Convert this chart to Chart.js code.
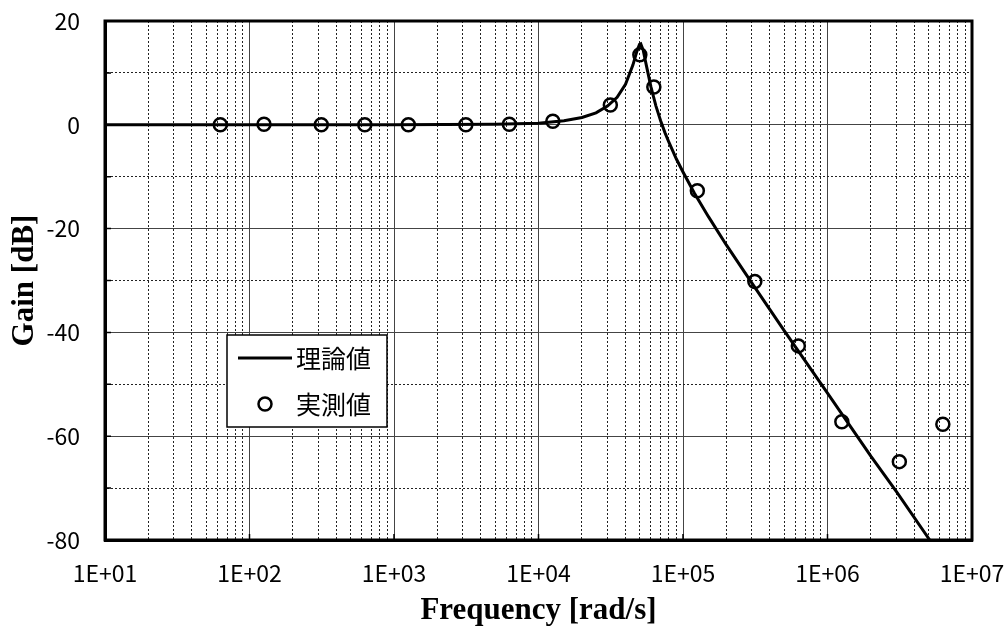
<!DOCTYPE html>
<html>
<head>
<meta charset="utf-8">
<script src="https://cdn.jsdelivr.net/npm/chart.js@4.4.1/dist/chart.umd.min.js"></script>
<style>
  html, body { margin: 0; padding: 0; background: #fff; }
</style>
</head>
<body>
<canvas id="gainChart" width="1008" height="632"></canvas>
<script>
// theoretical response (rad/s, dB)
const theoryFreq = [10, 1e3, 5e3, 1e4, 1.5e4, 2e4, 2.5e4, 3e4, 3.5e4, 4e4, 4.5e4, 4.8e4, 5e4, 5.1e4,
  5.3e4, 5.6e4, 6e4, 6.5e4, 7e4, 7.5e4, 8e4, 9e4, 1e5, 1.2e5, 1.5e5, 2e5, 3e5, 5e5, 1e6, 2e6, 3e6, 5.1e6];
const theoryGain = [0, 0, 0.1, 0.3, 0.8, 1.4, 2.3, 3.6, 5.3, 7.8, 11.5, 14.2, 15.5, 15.6,
  14.4, 11.2, 7.3, 3.6, 0.8, -1.5, -3.4, -6.6, -9.1, -13.2, -17.7, -23.2, -30.5, -39.6, -51.7, -63.9, -70.7, -80];

// measured points (rad/s, dB)
const measFreq = [62.8, 126, 314, 628, 1257, 3142, 6283, 12566, 31416, 50265, 62832,
  125664, 314159, 628319, 1256637, 3141593, 6283185];
const measGain = [0, 0.1, 0, 0, 0, 0, 0.1, 0.7, 3.8, 13.5, 7.3,
  -12.7, -30.2, -42.6, -57.2, -64.9, -57.7];

const decadeLabels = ["1E+01", "1E+02", "1E+03", "1E+04", "1E+05", "1E+06", "1E+07"];
const gainTicks = [-80, -70, -60, -50, -40, -30, -20, -10, 0, 10, 20];

const tickFont = { family: "'Noto Sans CJK JP', sans-serif", size: 23 };
const keyFont = { family: "'Noto Sans CJK JP', sans-serif", size: 25 };
const titleFont = { family: "'Liberation Serif', 'Times New Roman', serif", size: 31, weight: "bold" };

function isDecade(v) {
  const e = Math.log10(v);
  return Math.abs(e - Math.round(e)) < 1e-9;
}

// outer frame, inward tick stubs and legend box inside the plot
const frameAndKey = {
  id: "frameAndKey",
  afterDraw(chart) {
    const { ctx, chartArea: a, scales } = chart;
    ctx.save();
    ctx.strokeStyle = "#000";
    ctx.lineWidth = 3;
    ctx.strokeRect(a.left, a.top, a.right - a.left, a.bottom - a.top);

    ctx.lineWidth = 1.5;
    ctx.beginPath();
    gainTicks.forEach((v) => {
      const y = scales.y.getPixelForValue(v);
      ctx.moveTo(a.left, y);
      ctx.lineTo(a.left + 6, y);
    });
    scales.x.ticks.forEach((t) => {
      if (!isDecade(t.value)) return;
      const x = scales.x.getPixelForValue(t.value);
      ctx.moveTo(x, a.bottom);
      ctx.lineTo(x, a.bottom - 6);
    });
    ctx.stroke();

    const ds = chart.data.datasets;
    ctx.fillStyle = "#fff";
    ctx.fillRect(227, 335, 160, 92);
    ctx.lineWidth = 1.5;
    ctx.strokeRect(227, 335, 160, 92);

    ctx.strokeStyle = ds[0].borderColor;
    ctx.lineWidth = ds[0].borderWidth;
    ctx.beginPath();
    ctx.moveTo(238, 358);
    ctx.lineTo(292, 358);
    ctx.stroke();

    ctx.lineWidth = ds[1].borderWidth;
    ctx.strokeStyle = ds[1].borderColor;
    ctx.beginPath();
    ctx.arc(265, 404, ds[1].pointRadius, 0, Math.PI * 2);
    ctx.stroke();

    ctx.fillStyle = "#000";
    ctx.font = `${keyFont.size}px ${keyFont.family}`;
    ctx.textBaseline = "middle";
    ctx.textAlign = "left";
    ctx.fillText(ds[0].label, 296, 358);
    ctx.fillText(ds[1].label, 296, 404);
    ctx.restore();
  }
};

const ctx = document.getElementById("gainChart");
new Chart(ctx, {
  type: "scatter",
  data: {
    datasets: [
      {
        label: "理論値",
        data: theoryFreq.map((f, i) => ({ x: f, y: theoryGain[i] })),
        showLine: true,
        borderColor: "#000",
        borderWidth: 3,
        pointRadius: 0,
        tension: 0
      },
      {
        label: "実測値",
        data: measFreq.map((f, i) => ({ x: f, y: measGain[i] })),
        showLine: false,
        pointStyle: "circle",
        pointRadius: 6.5,
        borderWidth: 2.5,
        borderColor: "#000",
        backgroundColor: "rgba(0,0,0,0)"
      }
    ]
  },
  options: {
    responsive: false,
    animation: false,
    devicePixelRatio: 1,
    layout: { padding: { top: 21, right: 36, left: 0, bottom: 0 } },
    plugins: { legend: { display: false }, tooltip: { enabled: false } },
    scales: {
      x: {
        type: "logarithmic",
        min: 10,
        max: 1e7,
        afterBuildTicks: (scale) => {
          const ticks = [];
          for (let e = 1; e < 7; e++) {
            for (let m = 1; m < 10; m++) ticks.push({ value: m * Math.pow(10, e) });
          }
          ticks.push({ value: 1e7 });
          scale.ticks = ticks;
        },
        afterFit: (scale) => { scale.height = 92; },
        ticks: {
          autoSkip: false,
          maxRotation: 0,
          padding: 0,
          color: "#000",
          font: tickFont,
          callback: (v) => isDecade(v) ? decadeLabels[Math.round(Math.log10(v)) - 1] : ""
        },
        grid: {
          drawTicks: true,
          tickLength: 19,
          tickColor: "rgba(0,0,0,0)",
          color: (c) => c.tick && isDecade(c.tick.value) ? "#444" : "#222",
          lineWidth: 1
        },
        border: {
          display: true,
          color: "#000",
          width: 3,
          dash: (c) => !c.tick || isDecade(c.tick.value) ? [] : [2, 2]
        },
        title: {
          display: true,
          text: "Frequency [rad/s]",
          color: "#000",
          font: titleFont,
          padding: { top: 0, bottom: 2 }
        }
      },
      y: {
        min: -80,
        max: 20,
        afterBuildTicks: (scale) => { scale.ticks = gainTicks.map((v) => ({ value: v })); },
        afterFit: (scale) => { scale.width = 105; },
        ticks: {
          autoSkip: false,
          padding: 0,
          color: "#000",
          font: tickFont,
          callback: (v) => v % 20 === 0 ? String(v) : ""
        },
        grid: {
          drawTicks: true,
          tickLength: 25,
          tickColor: "rgba(0,0,0,0)",
          color: (c) => c.tick && c.tick.value % 20 === 0 ? "#444" : "#222",
          lineWidth: 1
        },
        border: {
          display: true,
          color: "#000",
          width: 3,
          dash: (c) => !c.tick || c.tick.value % 20 === 0 ? [] : [2, 2]
        },
        title: {
          display: true,
          text: "Gain [dB]",
          color: "#000",
          font: titleFont,
          padding: { top: 6, bottom: 0 }
        }
      }
    }
  },
  plugins: [frameAndKey]
});
</script>
</body>
</html>
